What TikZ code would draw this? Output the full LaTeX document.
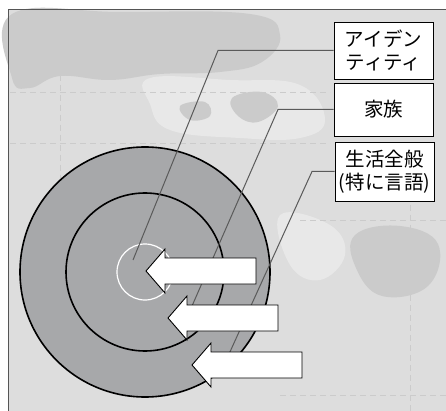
\documentclass[tikz,border=0pt]{standalone}
\usepackage{fontspec}
\newfontfamily\jpfont{Noto Sans CJK JP}
\definecolor{ringgray}{HTML}{A7A8AA}
\definecolor{bggray}{HTML}{DDDDDD}
\definecolor{bgdark}{HTML}{CBCBCB}
\definecolor{bglight}{HTML}{E8E8E8}
\definecolor{leadgray}{HTML}{5A5A5A}
\definecolor{framegray}{HTML}{555555}
\begin{document}
\begin{tikzpicture}[x=1pt,y=-1pt,
  ring/.style={draw=black,line width=1.6pt,fill=ringgray},
  lbl/.style={draw=black,line width=0.9pt,fill=white,minimum width=99pt,align=center,inner sep=0pt,font=\jpfont\fontsize{19.5}{22.5}\selectfont},
  leader/.style={draw=leadgray,line width=1pt},
  bigarrow/.style={draw=black,line width=0.9pt,fill=white,line join=miter},
  bigarr/.pic={\path[bigarrow] (0,0) -- (19,-22) -- (19,-13) -- (110,-13) -- (110,13) -- (19,13) -- (19,22) -- cycle;},
  mapline/.style={draw=bgdark,line width=0.8pt,dash pattern=on 6pt off 4pt}]
\useasboundingbox (0,0) rectangle (446,411);
% background texture
\fill[bggray] (8.5,9.5) rectangle (446,411);
\fill[bgdark] plot[smooth cycle,tension=0.7] coordinates {(12,14) (120,12) (250,14) (280,35) (262,62) (220,72) (160,74) (110,80) (60,76) (30,88) (12,78)};
\fill[bglight] plot[smooth cycle,tension=0.7] coordinates {(150,78) (230,80) (300,85) (325,120) (300,138) (240,138) (170,130) (150,104)};
\fill[bglight] plot[smooth cycle,tension=0.7] coordinates {(280,215) (330,225) (345,255) (320,280) (290,265)};
\fill[bgdark] plot[smooth cycle,tension=0.7] coordinates {(180,106) (205,102) (210,116) (190,120)};
\fill[bgdark] plot[smooth cycle,tension=0.7] coordinates {(232,98) (262,92) (278,106) (258,122) (238,116)};
\fill[bgdark] plot[smooth cycle,tension=0.7] coordinates {(355,235) (400,226) (438,244) (428,286) (382,296) (356,268)};
\draw[mapline] (10,92) -- (330,92);
\draw[mapline] (10,143) -- (330,143);
\draw[mapline] (60,15) -- (60,180);
\draw[mapline] (300,220) -- (446,220);
\draw[mapline] (280,395) -- (446,395);
\draw[mapline] (410,205) -- (410,411);
\draw[framegray,line width=1pt] (446,9.5) -- (8.5,9.5) -- (8.5,411);
% rings
\path[ring] (145,272) circle[radius=125pt];
\path[ring] (145,272) circle[radius=79pt];
\draw[white,line width=1.2pt] (145,272) circle[radius=28pt];
% label boxes
\node[lbl,minimum height=57pt] (ident) at (383.5,50.5) {アイデン\\ティティ};
\node[lbl,minimum height=53pt] (family) at (383.5,109.5) {家族};
\node[lbl,minimum height=59pt] (life) at (384.5,171.5) {生活全般\\(特に言語)};
% leader lines
\coordinate (b1) at (218,50.5);
\coordinate (e1) at (133,260);
\coordinate (b2) at (278,109.5);
\coordinate (e2) at (192,306);
\coordinate (b3) at (312,171.5);
\coordinate (e3) at (229,354);
\draw[leader] (ident.west) -- (b1) -- (e1);
\draw[leader] (family.west) -- (b2) -- (e2);
\draw[leader] (life.west) -- (b3) -- (e3);
% arrows
\pic at (146,271) {bigarr};
\pic at (168,318) {bigarr};
\pic at (192,365) {bigarr};
\end{tikzpicture}
\end{document}
